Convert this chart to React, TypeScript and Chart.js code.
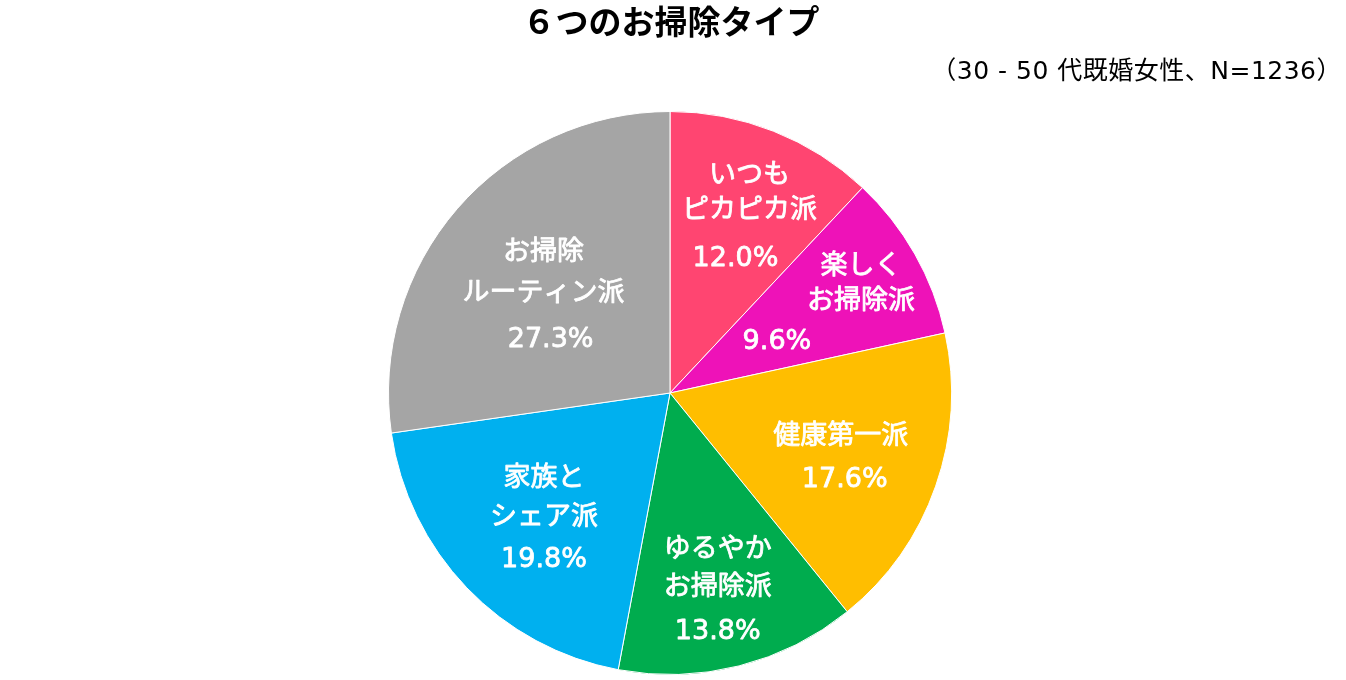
import React, { useEffect, useRef } from "react";
import { Chart, registerables } from "chart.js";

Chart.register(...registerables);

const categories = [
  ["いつも", "ピカピカ派"],
  ["楽しく", "お掃除派"],
  ["健康第一派"],
  ["ゆるやか", "お掃除派"],
  ["家族と", "シェア派"],
  ["お掃除", "ルーティン派"],
];
const values = [12.0, 9.6, 17.6, 13.8, 19.8, 27.3];
const colors = ["#FF4571", "#EE12B8", "#FFBE00", "#00AC4E", "#00B0EF", "#A5A5A5"];
const labelRadius = [0.69, 0.69, 0.65, 0.72, 0.63, 0.58];
const pctShiftX = [-6, -62, 2, -2, 2, 4];
const textShiftX = [8, 22, -2, -2, 2, -3];
const blockShiftY = [5, 7, 5, 2, 4, 10];
const lineGaps = [35, 35, 0, 38, 39, 41];
const pctGaps = [48, 40, 43, 44, 42, 46];
const titleText = "６つのお掃除タイプ";
const subtitleText = "（30 - 50 代既婚女性、N=1236）";

const FONT = '"DejaVu Sans", "Noto Sans CJK JP", sans-serif';

const labelPlugin = {
  id: "sliceLabels",
  afterDatasetsDraw(chart: any) {
    const ctx = chart.ctx;
    const meta = chart.getDatasetMeta(0);
    ctx.save();
    ctx.fillStyle = "#FFFFFF";
    ctx.strokeStyle = "#FFFFFF";
    ctx.lineWidth = 0.8;
    ctx.lineJoin = "round";
    ctx.textAlign = "center";
    ctx.textBaseline = "middle";
    ctx.font = `400 27px ${FONT}`;
    const draw = (t: string, x: number, y: number) => {
      ctx.fillText(t, x, y);
      ctx.strokeText(t, x, y);
    };
    meta.data.forEach((arc: any, i: number) => {
      const p = arc.getProps(["x", "y", "startAngle", "endAngle", "outerRadius"], true);
      const mid = (p.startAngle + p.endAngle) / 2;
      const r = p.outerRadius * labelRadius[i];
      const cx = p.x + Math.cos(mid) * r;
      const cy = p.y + Math.sin(mid) * r + blockShiftY[i];
      const lines = categories[i];
      const lineGap = lineGaps[i];
      const pctGap = pctGaps[i];
      const total = (lines.length - 1) * lineGap + pctGap;
      let y = cy - total / 2;
      lines.forEach((t, k) => {
        draw(t, cx + textShiftX[i], y);
        if (k < lines.length - 1) y += lineGap;
      });
      y += pctGap;
      draw(values[i].toFixed(1) + "%", cx + pctShiftX[i], y);
    });
    ctx.restore();
  },
};

const headerPlugin = {
  id: "header",
  afterDraw(chart: any) {
    const ctx = chart.ctx;
    ctx.save();
    ctx.fillStyle = "#000000";
    ctx.textBaseline = "middle";
    ctx.textAlign = "center";
    ctx.font = `bold 33px "Noto Sans CJK JP", sans-serif`;
    ctx.fillText(titleText, 671, 21);
    ctx.textAlign = "right";
    ctx.font = `400 25px ${FONT}`;
    (ctx as any).letterSpacing = "0.5px";
    ctx.fillText(subtitleText, 1342, 72);
    ctx.restore();
  },
};

export default function App() {
  const ref = useRef<HTMLCanvasElement>(null);
  useEffect(() => {
    document.body.style.margin = "0";
    const chart = new Chart(ref.current!, {
      type: "pie",
      data: {
        labels: categories.map((c) => c.join("")),
        datasets: [
          {
            data: values,
            backgroundColor: colors,
            borderColor: "#FFFFFF",
            borderWidth: 1,
          },
        ],
      },
      options: {
        responsive: false,
        animation: false,
        layout: { padding: { top: 111, bottom: 5, left: 388, right: 394 } },
        plugins: {
          legend: { display: false },
          title: { display: false },
          tooltip: { enabled: false },
        },
      },
      plugins: [labelPlugin, headerPlugin],
    });
    return () => chart.destroy();
  }, []);
  return (
    <div style={{ width: 1346, height: 680, background: "#FFFFFF" }}>
      <canvas ref={ref} width={1346} height={680} />
    </div>
  );
}
